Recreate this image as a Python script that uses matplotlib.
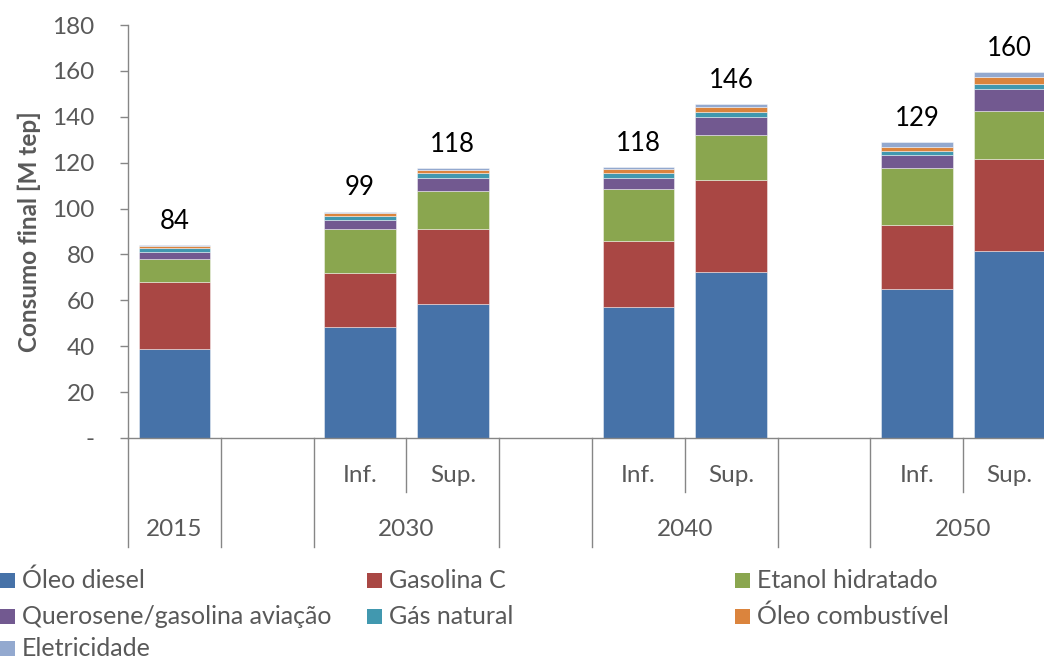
import matplotlib
matplotlib.use("Agg")
import matplotlib.pyplot as plt
from matplotlib.patches import Rectangle
import matplotlib.transforms as mtransforms
import numpy as np

plt.rcParams['font.family'] = ['Lato', 'DejaVu Sans']

# ---- data ----
slots = ["2015", "", "2030 Inf.", "2030 Sup.", "", "2040 Inf.", "2040 Sup.", "", "2050 Inf.", "2050 Sup."]
sub_labels = ["", "", "Inf.", "Sup.", "", "Inf.", "Sup.", "", "Inf.", "Sup."]
years = ["2015", "2030", "2040", "2050"]
year_pos = [0, 2.5, 5.5, 8.5]

series_names = ["Óleo diesel", "Gasolina C", "Etanol hidratado",
                "Querosene/gasolina aviação", "Gás natural", "Óleo combustível",
                "Eletricidade"]
colors = ["#4672A8", "#A94744", "#8AA64F", "#725990", "#4198AF", "#DB843D", "#93A9CF"]

# values per series for slots (None for empty slots)
oleo_diesel   = [38.8, None, 48.4, 58.4, None, 57.0, 72.4, None, 65.0, 81.5]
gasolina_c    = [29.1, None, 23.6, 32.8, None, 28.9, 40.1, None, 28.0, 40.0]
etanol        = [9.9,  None, 18.9, 16.5, None, 22.6, 19.5, None, 24.8, 21.0]
querosene     = [3.4,  None, 3.9,  5.5,  None, 4.7,  8.0,  None, 5.4,  9.6]
gas_natural   = [1.8,  None, 2.0,  2.1,  None, 2.4,  2.0,  None, 2.0,  2.2]
oleo_comb     = [0.6,  None, 1.2,  1.7,  None, 1.5,  2.4,  None, 1.8,  2.9]
eletricidade  = [0.3,  None, 0.7,  0.8,  None, 1.0,  1.1,  None, 1.9,  2.3]
totals_labels = ["84", "", "99", "118", "", "118", "146", "", "129", "160"]

series = [oleo_diesel, gasolina_c, etanol, querosene, gas_natural, oleo_comb, eletricidade]

W, H = 1044, 659
fig = plt.figure(figsize=(W / 100, H / 100), dpi=100)

def fx(px):
    return px / W

def fy(py):
    return 1 - py / H

ax_left, ax_right, ax_top, ax_bottom = 128, 1056, 25, 438
ax = fig.add_axes([fx(ax_left), fy(ax_bottom), fx(ax_right - ax_left), (ax_bottom - ax_top) / H])

x = np.arange(len(slots))
bottom = np.zeros(len(slots))
for name, vals, c in zip(series_names, series, colors):
    v = np.array([0 if s is None else s for s in vals], dtype=float)
    ax.bar(x, v, 0.77, bottom=bottom, color=c, edgecolor=(1, 1, 1, 0.5), linewidth=0.6, label=name)
    bottom += v

for xi, top, lab in zip(x, bottom, totals_labels):
    if lab:
        ax.annotate(lab, (xi, top), xytext=(0, 8), textcoords="offset points",
                    ha="center", va="bottom", fontsize=18.5, color="black")

ax.set_xlim(-0.5, 9.5)
ax.set_ylim(0, 180)
ax.set_yticks(np.arange(0, 181, 20))
ax.set_yticklabels(["-"] + [str(v) for v in range(20, 181, 20)])
axis_color = "#868686"
text_color = "#595959"
ax.tick_params(axis="y", direction="out", length=6, width=1, color=axis_color,
               labelsize=17.5, labelcolor=text_color, pad=18)
ax.set_xticks([])
for s in ["top", "right"]:
    ax.spines[s].set_visible(False)
ax.spines["left"].set_color(axis_color)
ax.spines["bottom"].set_color(axis_color)
ax.spines["left"].set_linewidth(1)
ax.spines["bottom"].set_linewidth(1)

ax.set_ylabel("Consumo final [M tep]", fontsize=17.5, fontweight="bold", color=text_color)
ax.yaxis.set_label_coords((41 - ax_left) / (ax_right - ax_left), 0.5)

# category axis separators
trans = mtransforms.blended_transform_factory(ax.transData, ax.transAxes)
axh = ax_bottom - ax_top
long_end = -(546.7 - ax_bottom) / axh
short_end = -(491.7 - ax_bottom) / axh
seps = [-0.5, 0.5, 1.5, 2.5, 3.5, 4.5, 5.5, 6.5, 7.5, 8.5, 9.5]
short = {2.5, 5.5, 8.5}
for sx in seps:
    ax.plot([sx, sx], [0, short_end if sx in short else long_end], color=axis_color,
            lw=1, transform=trans, clip_on=False)

sub_y = -(475 - ax_bottom) / axh
year_y = -(529 - ax_bottom) / axh
for xi, lab in zip(x, sub_labels):
    if lab:
        ax.text(xi, sub_y, lab, transform=trans, ha="center", va="center",
                fontsize=17.5, color=text_color)
for yp, lab in zip(year_pos, years):
    ax.text(yp, year_y, lab, transform=trans, ha="center", va="center",
            fontsize=17.5, color=text_color)

# legend (manual, row-wise like reference)
col_x = [0, 367, 735]
row_base = [588, 623.5, 656]
sq = 15
for i, (name, c) in enumerate(zip(series_names, colors)):
    r, k = divmod(i, 3)
    x0, yb = col_x[k], row_base[r]
    fig.add_artist(Rectangle((fx(x0), fy(yb)), fx(sq), sq / H,
                             transform=fig.transFigure, facecolor=c, edgecolor="none"))
    fig.text(fx(x0 + 22), fy(yb), name, ha="left", va="baseline",
             fontsize=18, color=text_color)

fig.savefig("out.png", dpi=100)
